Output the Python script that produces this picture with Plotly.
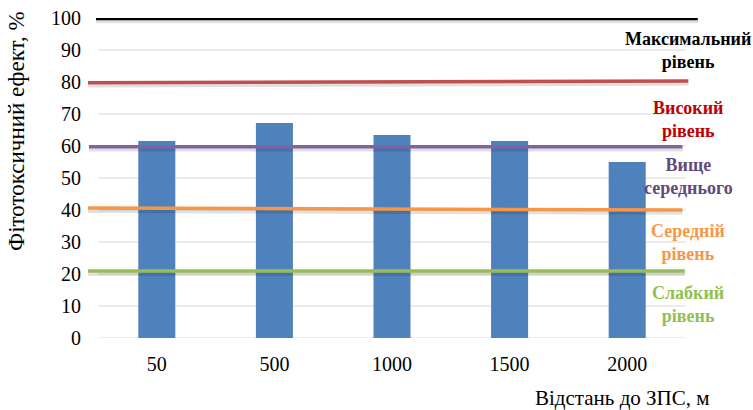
import plotly.graph_objects as go

categories = ["50", "500", "1000", "1500", "2000"]
effect = [61.6, 67.2, 63.4, 61.6, 55.0]

level_names = ["Максимальний<br>рівень", "Високий<br>рівень", "Вище<br>середнього",
               "Середній<br>рівень", "Слабкий<br>рівень"]
level_start = [100.0, 79.8, 59.8, 40.6, 20.9]
level_end = [100.0, 80.3, 59.8, 40.0, 20.9]
level_x0 = [-0.517, -0.585, -0.577, -0.585, -0.585]
level_x1 = [4.60, 4.52, 4.47, 4.47, 4.49]
level_colors = ["#000000", "#c0504d", "#8064a2", "#f79646", "#9bbb59"]
level_widths = [4.5, 3.5, 3.5, 3.5, 3.5]
label_colors = ["#000000", "#c00000", "#604a7b", "#f79646", "#92c050"]
label_y = [89.7, 68.4, 50.6, 29.7, 10.5]

y_ticks = list(range(0, 101, 10))

W, H = 753, 410
L, R, T, B = 86, 700, 18, 338  # plot area in px (wider than gridlines so level lines can overhang)
PW, PH = R - L, B - T
CAT0, CATW = 156.8, 117.6  # pixel centre of first category, category step
X_RANGE = [(L - CAT0) / CATW, (R - CAT0) / CATW]
cat_pos = list(range(len(categories)))


def px_x(px):
    return (px - L) / PW


def px_y(py):
    return (B - py) / PH


SERIF = "Liberation Serif, Times New Roman, serif"

fig = go.Figure()

# layer 1: horizontal gridlines spanning the category band only
gx, gy = [], []
for v in y_ticks:
    gx += [-0.5, len(categories) - 0.5, None]
    gy += [v, v, None]
fig.add_trace(go.Scatter(x=gx, y=gy, xaxis="x", mode="lines",
                         line=dict(color="#d9d9d9", width=1),
                         showlegend=False, hoverinfo="skip"))

# layer 2: bars
fig.add_trace(go.Bar(x=cat_pos, y=effect, xaxis="x2", width=0.315,
                     marker_color="#4f81bd", marker_line_width=0, showlegend=False,
                     hovertext=categories))

# layer 3: level lines
for i in range(len(level_names)):
    fig.add_trace(go.Scatter(x=[level_x0[i], level_x1[i]],
                             y=[level_start[i] - 0.8, level_end[i] - 0.8],
                             xaxis="x3", mode="lines",
                             line=dict(color="rgba(0,0,0,0.12)", width=level_widths[i] + 1),
                             showlegend=False, hoverinfo="skip"))
    fig.add_trace(go.Scatter(x=[level_x0[i], level_x1[i]],
                             y=[level_start[i], level_end[i]],
                             xaxis="x3", mode="lines",
                             line=dict(color=level_colors[i], width=level_widths[i]),
                             showlegend=False))

for i in range(len(level_names)):
    fig.add_annotation(x=px_x(688), xref="paper", y=label_y[i], yref="y",
                       text="<b>" + level_names[i] + "</b>", showarrow=False,
                       xanchor="center", yanchor="middle", align="center",
                       font=dict(family=SERIF, size=18, color=label_colors[i]))

fig.add_annotation(x=px_x(16), xref="paper", y=px_y(131), yref="paper",
                   text="Фітотоксичний ефект, %", showarrow=False, textangle=-90,
                   xanchor="center", yanchor="middle",
                   font=dict(family=SERIF, size=23, color="#000"))
fig.add_annotation(x=px_x(622), xref="paper", y=px_y(398), yref="paper",
                   text="Відстань до ЗПС, м", showarrow=False, xanchor="center",
                   yanchor="middle", font=dict(family=SERIF, size=21, color="#000"))

fig.update_layout(
    width=W, height=H,
    margin=dict(l=L, r=W - R, t=T, b=H - B, pad=0),
    paper_bgcolor="white", plot_bgcolor="white",
    font=dict(family=SERIF, size=20, color="#000"),
    xaxis=dict(range=X_RANGE, tickvals=cat_pos, ticktext=categories,
               showgrid=False, showline=False, zeroline=False, ticks="",
               ticklabelstandoff=12, tickfont=dict(family=SERIF, size=20, color="#000"),
               automargin=False),
    xaxis2=dict(overlaying="x", range=X_RANGE, visible=False, automargin=False),
    xaxis3=dict(overlaying="x", range=X_RANGE, visible=False, automargin=False),
    yaxis=dict(range=[0, 100], tickvals=y_ticks, showgrid=False,
               zeroline=False, showline=False, ticks="",
               ticklabelstandoff=4, tickfont=dict(family=SERIF, size=20, color="#000"),
               automargin=False, ticklabeloverflow="allow"),
)

fig.write_html("out.html",
               config={"displayModeBar": False},
               post_script="document.body.style.margin='0';"
                           "document.body.style.overflow='hidden';")
